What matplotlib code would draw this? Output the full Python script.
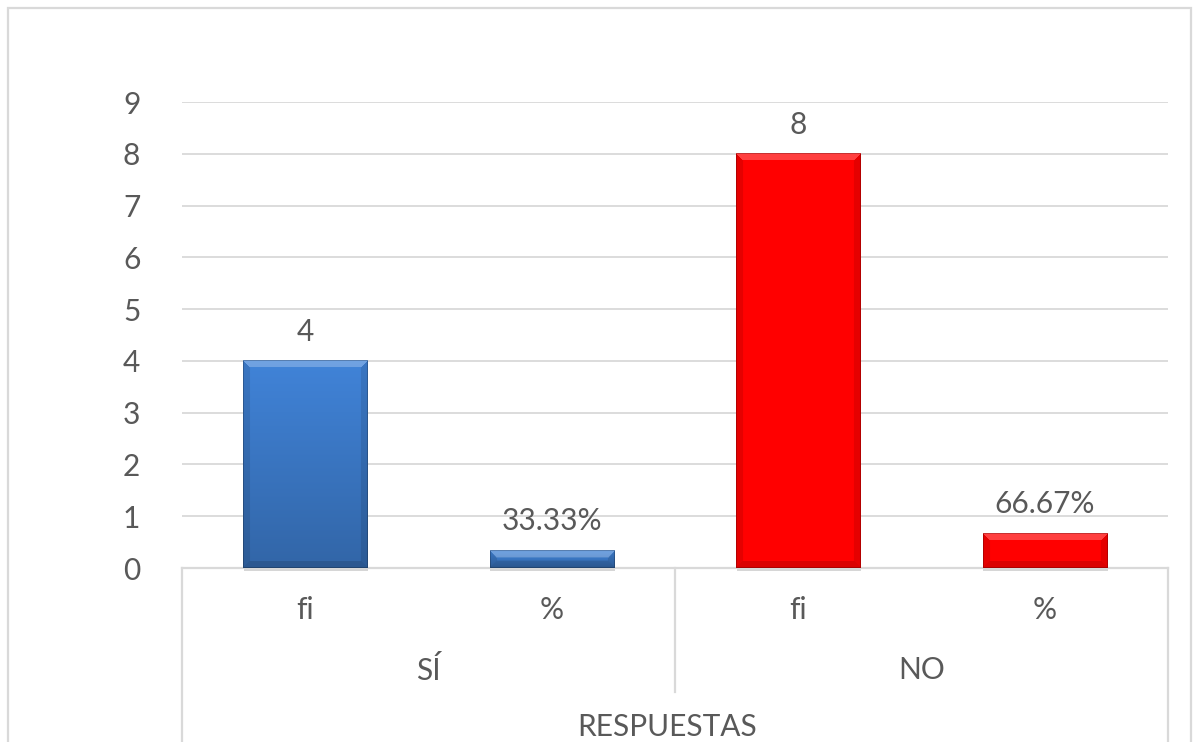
import numpy as np
import matplotlib
matplotlib.use("Agg")
import matplotlib.pyplot as plt
from matplotlib.patches import Rectangle
from matplotlib.colors import to_rgb

# ---- data ----
groups = ["SÍ", "NO"]
sub_labels = ["fi", "%", "fi", "%"]
values = [4, 0.3333, 8, 0.6667]
value_labels = ["4", "33.33%", "8", "66.67%"]
axis_title = "RESPUESTAS"
yticks = list(range(0, 10))
bar_colors = ["#3d7ccc", "#3d7ccc", "#ff0000", "#ff0000"]

plt.rcParams['font.family'] = ['Lato', 'DejaVu Sans']
TXT = "#595959"
GRID = "#d9d9d9"
FS = 21.5

W, H = 1193, 742
fig = plt.figure(figsize=(W / 100, H / 100), dpi=100)
fig.patch.set_facecolor("white")

# outer chart border
fig.patches.append(Rectangle((8 / W, -0.05), (1191 - 8) / W, (H - 8) / H + 0.05,
                             transform=fig.transFigure, fill=False,
                             edgecolor=GRID, linewidth=1.6, zorder=0))

left_px, right_px, top_px, bot_px = 182, 1168, 102, 568
ax = fig.add_axes([left_px / W, (H - bot_px) / H,
                   (right_px - left_px) / W, (bot_px - top_px) / H])
ax.set_xlim(-0.5, 3.5)
ax.set_ylim(0, 9)
ax.set_yticks(yticks)
ax.set_yticklabels([str(t) for t in yticks], fontsize=FS, color=TXT)
ax.tick_params(axis='y', length=0, pad=30)
ax.set_xticks([])
for s in ["top", "right", "left"]:
    ax.spines[s].set_visible(False)
ax.spines["bottom"].set_color(GRID)
ax.spines["bottom"].set_linewidth(1.6)
ax.yaxis.grid(True, color=GRID, linewidth=1.3)
ax.set_axisbelow(True)

x = np.arange(len(values))
bars = ax.bar(x, values, width=0.505, color=bar_colors, zorder=2, linewidth=0)

# bevel overlay for bars
fig.canvas.draw()
for b, c in zip(bars, bar_colors):
    x0, y0 = b.get_x(), b.get_y()
    x1, y1 = x0 + b.get_width(), y0 + b.get_height()
    p0 = ax.transData.transform((x0, y0))
    p1 = ax.transData.transform((x1, y1))
    wpx = max(int(round(p1[0] - p0[0])), 2)
    hpx = max(int(round(p1[1] - p0[1])), 2)
    base = np.array(to_rgb(c))
    img = np.ones((hpx, wpx, 3)) * base
    if c != "#ff0000":
        grad = np.linspace(1.06, 0.82, hpx)[:, None, None]
        img = np.clip(img * grad, 0, 1)
    bw = 7
    yy, xx = np.mgrid[0:hpx, 0:wpx]
    dtop = yy
    dbot = hpx - 1 - yy
    dl = xx
    dr = wpx - 1 - xx
    dmin = np.minimum(np.minimum(dtop, dbot), np.minimum(dl, dr))
    edge = dmin < bw
    topmask = edge & (dtop == dmin)
    botmask = edge & (dbot == dmin) & ~topmask
    sidemask = edge & ~topmask & ~botmask
    img[topmask] = np.clip(img[topmask] * 0.75 + 0.25, 0, 1)
    img[botmask] = img[botmask] * 0.86
    img[sidemask] = img[sidemask] * 0.9
    outline = dmin < 1
    img[outline] = img[outline] * 0.78
    ax.imshow(img, extent=(x0, x1, y0, y1), aspect='auto', zorder=3,
              interpolation='bilinear', origin='upper')
    ax.add_patch(Rectangle((x0 + 0.004, y0), b.get_width(), -0.06,
                           facecolor="#d6d6d6", edgecolor='none',
                           zorder=1, clip_on=False))
ax.set_xlim(-0.5, 3.5)
ax.set_ylim(0, 9)

for xi, v, lab in zip(x, values, value_labels):
    ax.annotate(lab, (xi, v), xytext=(0, 11), textcoords='offset points',
                ha='center', va='bottom', fontsize=FS, color=TXT, zorder=5)

# category axis (multi-level)
tr = ax.get_xaxis_transform()
ax_h = bot_px - top_px
def fy(px):
    return -(px - bot_px) / ax_h

for xv, yend in [(-0.5, 760), (1.5, 692), (3.5, 760)]:
    ax.plot([xv, xv], [0, fy(yend)], transform=tr, color=GRID,
            linewidth=1.6, clip_on=False, zorder=1)

for xi, lab in zip(x, sub_labels):
    ax.text(xi, fy(610), lab, transform=tr, ha='center', va='center',
            fontsize=FS, color=TXT)
for gi, g in enumerate(groups):
    ax.text(gi * 2 + 0.5, fy(670), g, transform=tr, ha='center', va='center',
            fontsize=FS, color=TXT)
ax.text(1.47, fy(741), axis_title, transform=tr, ha='center', va='bottom',
        fontsize=FS, color=TXT)

fig.savefig("out.png", dpi=100)
